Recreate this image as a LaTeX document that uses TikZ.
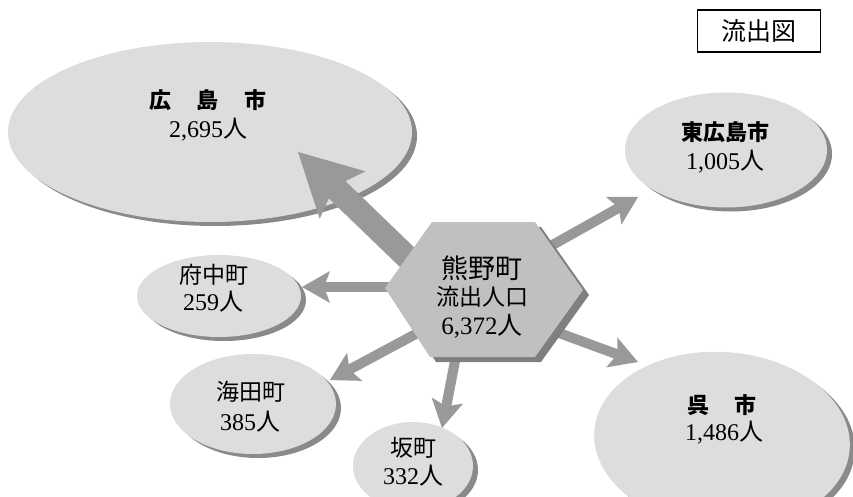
\documentclass[tikz,border=0pt]{standalone}
\usepackage{fontspec}
\setmainfont{Liberation Serif}
\newfontfamily\cjk{Noto Sans CJK JP}
\usetikzlibrary{arrows.meta,shapes.geometric,shadows}
\definecolor{ellfill}{HTML}{DDDDDD}
\definecolor{ellshadow}{HTML}{8A8A8A}
\definecolor{hexfill}{HTML}{C0C0C0}
\definecolor{hexshadow}{HTML}{7F7F7F}
\definecolor{arrowgray}{HTML}{999999}
\begin{document}
\begin{tikzpicture}[x=1pt,y=-1pt,
  ell/.style={ellipse, fill=ellfill, inner sep=0pt, draw=none,
    drop shadow={shadow xshift=5pt, shadow yshift=-4pt, opacity=1, fill=ellshadow}},
  flow/.style={draw=arrowgray, line width=10pt,
    -{Stealth[length=28pt,width=32pt,inset=6pt,line width=0pt]}},
  bigflow/.style={draw=arrowgray, line width=24pt,
    -{Stealth[length=62pt,width=66pt,inset=12pt,line width=0pt]}},
  namebold/.style={font=\cjk\bfseries\fontsize{22}{22}\selectfont, inner sep=0pt},
  namereg/.style={font=\cjk\fontsize{23}{23}\selectfont, inner sep=0pt},
  num/.style={font=\fontsize{24}{24}\selectfont, inner sep=0pt},
  titlebox/.style={draw=black, line width=1.5pt, fill=white, minimum width=123pt,
    minimum height=42pt, inner sep=0pt, font=\cjk\fontsize{25}{25}\selectfont}
]
\path[use as bounding box, clip] (0,0) rectangle (853,497);

% ellipses
\node[ell, minimum width=404pt, minimum height=180pt] (hiro) at (210,132) {};
\node[ell, minimum width=202pt, minimum height=115pt] (higashi) at (726,150) {};
\node[ell, minimum width=256pt, minimum height=176pt, rotate=-4] (kure) at (722,440) {};
\node[ell, minimum width=164pt, minimum height=82pt] (fuchu) at (219,296) {};
\node[ell, minimum width=166pt, minimum height=100pt] (kaita) at (253,404) {};
\node[ell, minimum width=120pt, minimum height=88pt] (saka) at (413,466) {};

% labels in ellipses
\node[namebold] (hironame) at (208,100) {広\hspace{26pt}島\hspace{26pt}市};
\node[num] (hironum) at (208,130) {2,695{\cjk 人}};
\node[namebold] (higashiname) at (725,132) {東広島市};
\node[num] (higashinum) at (725,162) {1,005{\cjk 人}};
\node[namebold] (kurename) at (722,405) {呉\hspace{26pt}市};
\node[num] (kurenum) at (724,433) {1,486{\cjk 人}};
\node[namereg] (fuchuname) at (214,275) {府中町};
\node[num] (fuchunum) at (213,302) {259{\cjk 人}};
\node[namereg] (kaitaname) at (251,392) {海田町};
\node[num] (kaitanum) at (250,422) {385{\cjk 人}};
\node[namereg] (sakaname) at (413,448) {坂町};
\node[num] (sakanum) at (413,476) {332{\cjk 人}};

% arrow end points
\coordinate (tHiro) at (440,289);   \coordinate (hHiro) at (298,152);
\coordinate (tHiga) at (540,252);   \coordinate (hHiga) at (638,197);
\coordinate (tKure) at (540,326);   \coordinate (hKure) at (638,362);
\coordinate (tFuchu) at (430,287);  \coordinate (hFuchu) at (302,287);
\coordinate (tKaita) at (440,321);  \coordinate (hKaita) at (330,380);
\coordinate (tSaka) at (461,330);   \coordinate (hSaka) at (442,428);

\draw[bigflow] (tHiro) -- (hHiro);
\draw[flow] (tHiga) -- (hHiga);
\draw[flow] (tKure) -- (hKure);
\draw[flow] (tFuchu) -- (hFuchu);
\draw[flow] (tKaita) -- (hKaita);
\draw[flow] (tSaka) -- (hSaka);

% hexagon
\fill[hexshadow] ([shift={(6,5)}]432,222) -- ([shift={(6,5)}]535,222) -- ([shift={(6,5)}]583,290)
  -- ([shift={(6,5)}]535,357) -- ([shift={(6,5)}]430,357) -- ([shift={(6,5)}]385,288) -- cycle;
\fill[hexfill] (432,222) -- (535,222) -- (583,290) -- (535,357) -- (430,357) -- (385,288) -- cycle;
\node[font=\cjk\fontsize{27}{27}\selectfont, inner sep=0pt] (kumano) at (482,268) {熊野町};
\node[font=\cjk\fontsize{23}{23}\selectfont, inner sep=0pt] (ryushutsu) at (482,297) {流出人口};
\node[num, font=\fontsize{25}{25}\selectfont] (total) at (482,326) {6,372{\cjk 人}};

% title box
\node[titlebox] (title) at (759,31) {流出図};
\end{tikzpicture}
\end{document}
